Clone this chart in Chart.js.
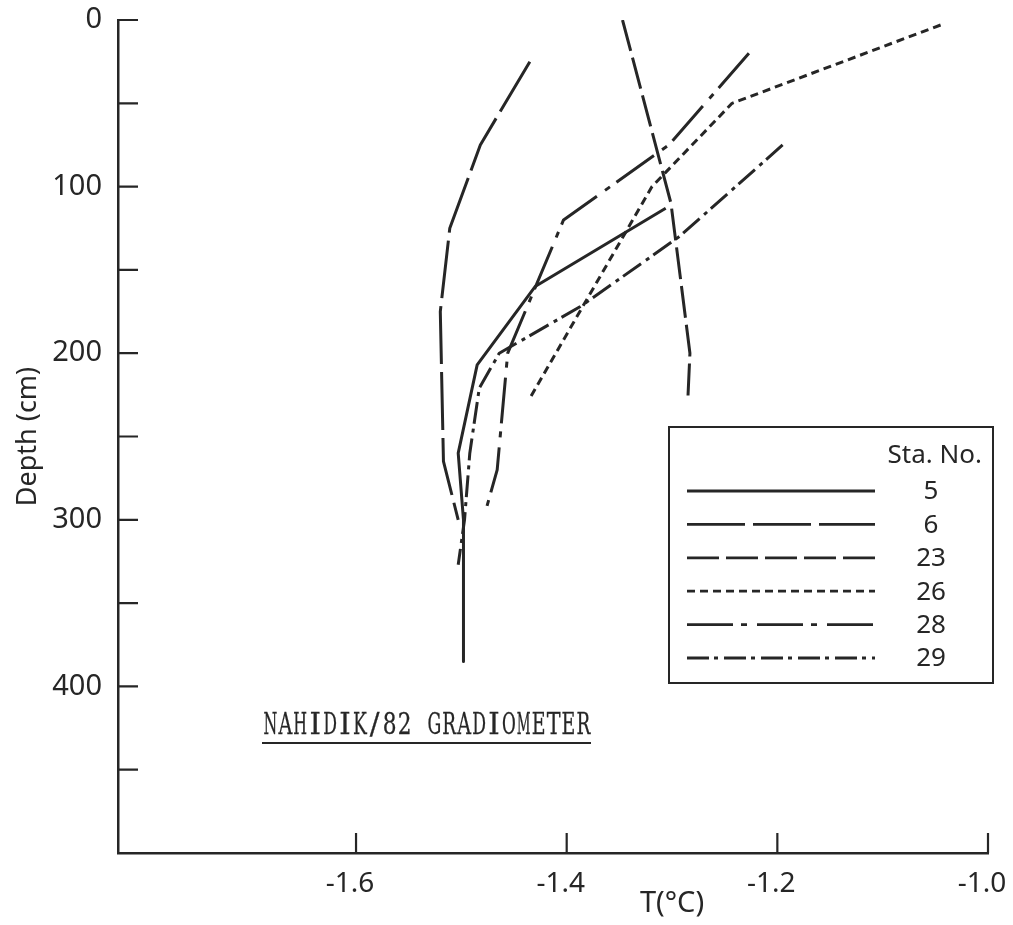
<!DOCTYPE html>
<html>
<head>
<meta charset="utf-8">
<title>NAHIDIK/82 GRADIOMETER</title>
<script src="https://cdn.jsdelivr.net/npm/chart.js@4.4.1/dist/chart.umd.min.js"></script>
<style>
  html, body { margin: 0; padding: 0; background: #ffffff; }
  canvas { display: block; }
</style>
</head>
<body>
<canvas id="chart" width="1013" height="925"></canvas>
<script>
// Axis ticks
const xTickValues = [-1.6, -1.4, -1.2, -1.0];
const xTickLabels = ['-1.6', '-1.4', '-1.2', '-1.0'];
const yTickValues = [0, 100, 200, 300, 400];
const yTickLabels = ['0', '100', '200', '300', '400'];
const yTickMarks = [0, 50, 100, 150, 200, 250, 300, 350, 400, 450];

// Station profiles: temperature (°C) against depth (cm)
const stations = ['5', '6', '23', '26', '28', '29'];

const sta5Temp  = [-1.306, -1.430, -1.485, -1.503, -1.498, -1.498];
const sta5Depth = [113, 160, 207, 260, 300, 385];

const sta6Temp  = [-1.435, -1.482, -1.511, -1.520, -1.517, -1.503];
const sta6Depth = [25, 75, 125, 175, 265, 300];

const sta23Temp  = [-1.347, -1.301, -1.283, -1.285];
const sta23Depth = [0, 110, 200, 228];

const sta26Temp  = [-1.045, -1.243, -1.319, -1.435];
const sta26Depth = [3, 50, 100, 227];

const sta28Temp  = [-1.227, -1.303, -1.403, -1.456, -1.466, -1.478];
const sta28Depth = [20, 75, 120, 200, 270, 297];

const sta29Temp  = [-1.195, -1.293, -1.387, -1.464, -1.483, -1.492, -1.497, -1.503];
const sta29Depth = [75, 130, 172, 200, 221, 260, 300, 327];

const stationTemps  = [sta5Temp, sta6Temp, sta23Temp, sta26Temp, sta28Temp, sta29Temp];
const stationDepths = [sta5Depth, sta6Depth, sta23Depth, sta26Depth, sta28Depth, sta29Depth];

// Line styles, one per station
const INK = '#262626';
const dashPatterns = [[], [58, 8], [32, 7], [8, 5], [46, 8, 6, 10], [22, 5, 4, 6]];

const datasets = stations.map((name, i) => ({
  label: name,
  data: stationTemps[i].map((t, k) => ({ x: t, y: stationDepths[i][k] })),
  showLine: true,
  borderColor: INK,
  borderWidth: 3,
  borderDash: dashPatterns[i],
  borderCapStyle: 'butt',
  borderJoinStyle: 'round',
  pointRadius: 0,
  fill: false,
  tension: 0
}));

// Inward tick marks on both axes
const innerTicks = {
  id: 'innerTicks',
  afterDraw(chart) {
    const { ctx, chartArea, scales } = chart;
    ctx.save();
    ctx.strokeStyle = INK;
    ctx.lineWidth = 2.2;
    ctx.beginPath();
    yTickMarks.forEach(v => {
      const y = scales.y.getPixelForValue(v);
      ctx.moveTo(chartArea.left, y);
      ctx.lineTo(chartArea.left + 20, y);
    });
    xTickValues.forEach(v => {
      const x = scales.x.getPixelForValue(v);
      ctx.moveTo(x, chartArea.bottom);
      ctx.lineTo(x, chartArea.bottom - 20);
    });
    ctx.stroke();
    ctx.restore();
  }
};

// Station key box
const stationKey = {
  id: 'stationKey',
  afterDraw(chart) {
    const ctx = chart.ctx;
    ctx.save();
    ctx.strokeStyle = INK;
    ctx.fillStyle = INK;
    ctx.lineWidth = 2;
    ctx.setLineDash([]);
    ctx.strokeRect(669, 427, 324, 256);
    ctx.font = '26px "Noto Sans"';
    ctx.textBaseline = 'middle';
    ctx.textAlign = 'right';
    ctx.fillText('Sta. No.', 982, 456);
    ctx.textAlign = 'center';
    stations.forEach((name, i) => {
      const y = 491 + i * 33.4;
      ctx.lineWidth = 2.8;
      ctx.setLineDash(dashPatterns[i]);
      ctx.beginPath();
      ctx.moveTo(687, y);
      ctx.lineTo(875, y);
      ctx.stroke();
      ctx.setLineDash([]);
      ctx.fillText(name, 931, y + 1);
    });
    ctx.restore();
  }
};

// Underlined typewriter caption and the temperature axis title
const captions = {
  id: 'captions',
  afterDraw(chart) {
    const { ctx, scales } = chart;
    ctx.save();
    ctx.fillStyle = INK;
    ctx.strokeStyle = INK;

    const caption = 'NAHIDIK/82 GRADIOMETER';
    const pitch = 14.9;
    ctx.font = '29px "DejaVu Serif"';
    ctx.textAlign = 'center';
    ctx.textBaseline = 'alphabetic';
    ctx.lineWidth = 0.3;
    [...caption].forEach((ch, i) => {
      const w = ctx.measureText(ch).width;
      const sx = Math.min(1, 13.8 / Math.max(w, 1));
      ctx.save();
      ctx.translate(263 + pitch * (i + 0.5), 734);
      ctx.scale(sx, 1);
      ctx.fillText(ch, 0, 0);
      ctx.strokeText(ch, 0, 0);
      ctx.restore();
    });
    ctx.lineWidth = 2;
    ctx.beginPath();
    ctx.moveTo(262, 743);
    ctx.lineTo(591, 743);
    ctx.stroke();

    ctx.font = '29px "Noto Sans"';
    ctx.textAlign = 'center';
    ctx.textBaseline = 'middle';
    ctx.fillText('T(°C)', scales.x.getPixelForValue(-1.3), 904);
    ctx.restore();
  }
};

new Chart(document.getElementById('chart'), {
  type: 'scatter',
  data: { datasets },
  options: {
    responsive: false,
    animation: false,
    events: [],
    layout: { padding: { left: 0, right: 25, top: 20, bottom: 0 } },
    plugins: {
      legend: { display: false },
      tooltip: { enabled: false }
    },
    scales: {
      x: {
        type: 'linear',
        position: 'bottom',
        min: -1.826,
        max: -1.0,
        grid: { display: false },
        border: { display: true, color: INK, width: 2.5 },
        afterBuildTicks: scale => { scale.ticks = xTickValues.map(v => ({ value: v })); },
        afterFit: scale => {
          scale.height = 72;
          scale.paddingLeft = 0;
          scale.paddingRight = 0;
        },
        ticks: {
          autoSkip: false,
          maxRotation: 0,
          minRotation: 0,
          padding: 6,
          labelOffset: -6,
          color: INK,
          font: { family: 'Noto Sans', size: 28 },
          callback: (value, index) => xTickLabels[index]
        }
      },
      y: {
        type: 'linear',
        position: 'left',
        reverse: true,
        min: 0,
        max: 500,
        grid: { display: false },
        border: { display: true, color: INK, width: 2.5 },
        afterBuildTicks: scale => { scale.ticks = yTickValues.map(v => ({ value: v })); },
        afterFit: scale => {
          scale.width = 118;
          scale.paddingTop = 0;
          scale.paddingBottom = 0;
        },
        title: {
          display: true,
          text: 'Depth (cm)',
          color: INK,
          font: { family: 'Noto Sans', size: 27 },
          padding: { top: 12, bottom: 0 }
        },
        ticks: {
          autoSkip: false,
          padding: 8,
          color: INK,
          font: { family: 'Noto Sans', size: 29 },
          callback: (value, index) => yTickLabels[index]
        }
      }
    }
  },
  plugins: [innerTicks, stationKey, captions]
});
</script>
</body>
</html>
